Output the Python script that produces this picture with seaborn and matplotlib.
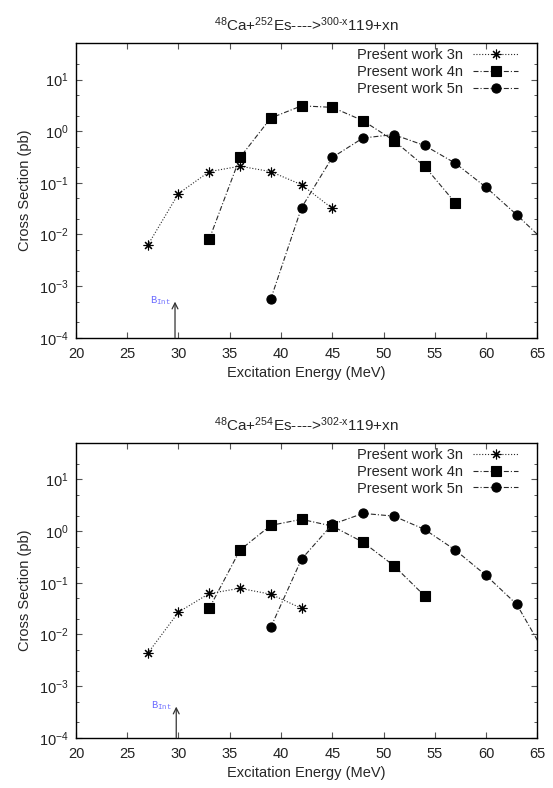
import numpy as np
import pandas as pd
import matplotlib
matplotlib.use("Agg")
import matplotlib.pyplot as plt
import seaborn as sns
from matplotlib.ticker import LogLocator, NullFormatter, MultipleLocator

# Excitation energies (MeV) per channel, 48Ca + 252Es
e_3n = [27, 30, 33, 36, 39, 42, 45]
e_4n = [33, 36, 39, 42, 45, 48, 51, 54, 57]
e_5n = [39, 42, 45, 48, 51, 54, 57, 60, 63, 66]

# 48Ca + 252Es cross sections (pb)
es252_3n = [0.0062, 0.062, 0.165, 0.21, 0.165, 0.092, 0.032]
es252_4n = [0.0081, 0.31, 1.8, 3.1, 2.9, 1.6, 0.66, 0.21, 0.041]
es252_5n = [0.00056, 0.033, 0.31, 0.74, 0.86, 0.53, 0.24, 0.082, 0.024, 0.0065]

# Excitation energies (MeV) per channel, 48Ca + 254Es
e_3n_b = [27, 30, 33, 36, 39, 42]
e_4n_b = [33, 36, 39, 42, 45, 48, 51, 54]
e_5n_b = [39, 42, 45, 48, 51, 54, 57, 60, 63, 66]

# 48Ca + 254Es cross sections (pb)
es254_3n = [0.0043, 0.027, 0.062, 0.078, 0.06, 0.032]
es254_4n = [0.032, 0.43, 1.29, 1.69, 1.25, 0.61, 0.215, 0.056]
es254_5n = [0.0137, 0.286, 1.35, 2.2, 1.95, 1.08, 0.43, 0.139, 0.038, 0.0035]

titles = [r"$^{48}$Ca+$^{252}$Es---->$^{300\text{-}x}$119+xn",
          r"$^{48}$Ca+$^{254}$Es---->$^{302\text{-}x}$119+xn"]
# interaction barrier position (MeV) and arrow tip (pb)
b_int = [29.66, 29.78]
b_tip = [5e-4, 4e-4]
b_lab = [4.6e-4, 3.7e-4]

sns.set_style("ticks")
plt.rcParams['font.family'] = ['Liberation Sans', 'DejaVu Sans']
plt.rcParams['mathtext.fontset'] = 'custom'
plt.rcParams['mathtext.rm'] = 'Liberation Sans'
plt.rcParams['mathtext.it'] = 'Liberation Sans'
plt.rcParams['mathtext.tt'] = 'Liberation Mono'
plt.rcParams['font.size'] = 10.5

FS = 10.5

panels = [
    (e_3n, es252_3n, e_4n, es252_4n, e_5n, es252_5n),
    (e_3n_b, es254_3n, e_4n_b, es254_4n, e_5n_b, es254_5n),
]

fig = plt.figure(figsize=(5.53, 7.88), dpi=100)
rects = [[0.1374, 0.5714, 0.8342, 0.3734], [0.1374, 0.0638, 0.8342, 0.3736]]

dashdot = (0, (4.5, 1.8, 1, 1.8))
styles = [
    dict(marker=(8, 2, 0), markersize=7, linestyle=(0, (1, 1.6)), label="Present work 3n"),
    dict(marker='s', markersize=6.8, linestyle=dashdot, label="Present work 4n"),
    dict(marker='o', markersize=6.6, linestyle=dashdot, label="Present work 5n"),
]

for i, (rect, data) in enumerate(zip(rects, panels)):
    ax = fig.add_axes(rect)
    for k in range(3):
        df = pd.DataFrame({"E": data[2 * k], "sigma": data[2 * k + 1]})
        st = styles[k]
        sns.lineplot(data=df, x="E", y="sigma", ax=ax, color="#2a2a2a",
                     marker=st["marker"], markersize=st["markersize"],
                     linestyle=st["linestyle"], linewidth=0.8,
                     markeredgecolor="black", markerfacecolor="black",
                     markeredgewidth=0.8, label=st["label"])
    ax.set_yscale("log")
    ax.set_xlim(20, 65)
    ax.set_ylim(1e-4, 50)
    ax.xaxis.set_major_locator(MultipleLocator(5))
    ax.yaxis.set_major_locator(LogLocator(base=10, numticks=10))
    ax.yaxis.set_minor_locator(LogLocator(base=10, subs=(2, 5), numticks=10))
    ax.yaxis.set_minor_formatter(NullFormatter())
    ax.tick_params(which="both", direction="in", top=True, right=True,
                   labelsize=FS, colors="#222222")
    ax.tick_params(axis="x", which="major", pad=6.5)
    ax.tick_params(axis="y", which="major", pad=5)
    ax.tick_params(which="major", length=4, width=0.8, color="#555555")
    ax.tick_params(which="minor", length=2.5, width=0.7, color="#555555")
    for sp in ax.spines.values():
        sp.set_linewidth(1.0)
        sp.set_color("black")
        sp.set_visible(True)
    ax.set_xlabel("Excitation Energy (MeV)", fontsize=FS, labelpad=4)
    ax.set_ylabel("Cross Section (pb)", fontsize=FS, labelpad=5)
    ax.set_title(titles[i], fontsize=11, pad=9)

    ax.annotate("", xy=(b_int[i], b_tip[i]), xytext=(b_int[i], 1e-4),
                arrowprops=dict(arrowstyle="->", color="#333333", lw=0.9,
                                shrinkA=0, shrinkB=0))
    ax.text(b_int[i] - 0.4, b_lab[i], r"$\mathtt{B}_{\mathtt{Int}}$", color="#6b6bff",
            fontsize=7.5, ha="right", va="baseline")

    ax.legend(loc="upper right", bbox_to_anchor=(0.9588, 0.985), frameon=False,
              markerfirst=False, fontsize=FS, handlelength=3.1, handletextpad=0.7,
              labelspacing=0.2, borderaxespad=0, borderpad=0)

fig.savefig("out.png", dpi=100)
